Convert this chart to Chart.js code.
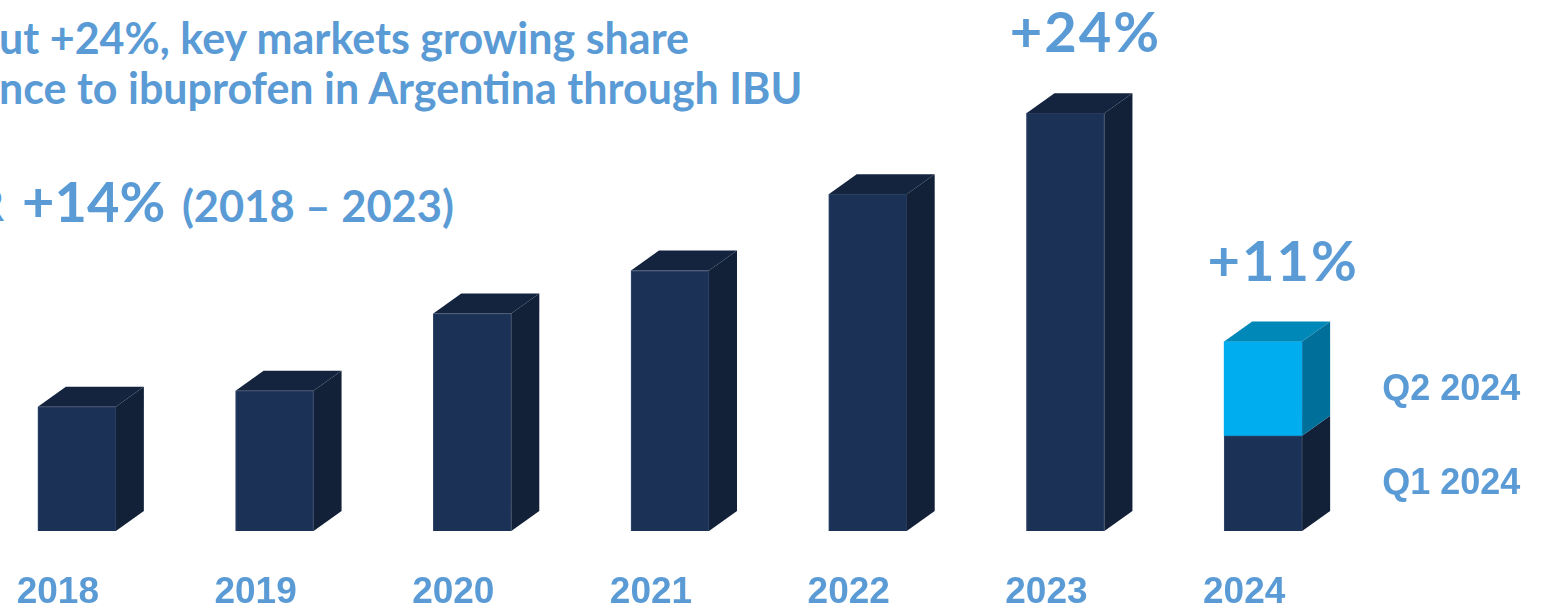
<!DOCTYPE html>
<html>
<head>
<meta charset="utf-8">
<script src="https://cdn.jsdelivr.net/npm/chart.js@4.4.1/dist/chart.umd.min.js"></script>
<style>
  html, body { margin: 0; padding: 0; background: #fff; }
  body { width: 1550px; height: 607px; position: relative; overflow: hidden; font-family: 'Lato', sans-serif; color: #5B9BD5; }
  #wrap { position: absolute; left: -22px; top: 0; width: 1600px; height: 607px; }
  .head { position: absolute; font-weight: 700; white-space: nowrap; line-height: 1; }
  #line1 { left: -1px; top: 16px; font-size: 43px; }
  #line2 { left: -1px; top: 66px; font-size: 43px; }
  #cagrLead { right: calc(100% - 4px); top: 183px; font-size: 43px; }
  #cagr { left: 22px; top: 173px; font-size: 43.5px; }
  #cagr b { font-size: 56px; font-weight: 700; margin-right: 6px; }
</style>
</head>
<body>
<div class="head" id="line1">ut +24%, key markets growing share</div>
<div class="head" id="line2">nce to ibuprofen in Argentina through IBU</div>
<div class="head" id="cagrLead">CAGR</div>
<div class="head" id="cagr"><b>+14%</b> (2018 – 2023)</div>
<div id="wrap"><canvas id="salesChart" width="1600" height="607"></canvas></div>

<script>
// --- Data ---
const years = ['2018', '2019', '2020', '2021', '2022', '2023', '2024'];
const annualValues = [124, 140, 217, 260, 336, 417, 95]; // 2024 slot holds Q1
const q2Values = [null, null, null, null, null, null, 94];
const growthLabels = ['', '', '', '', '', '+24%', '+11%'];
const quarterLabels = ['Q1 2024', 'Q2 2024'];

// --- Styling for the fake 3D faces ---
const DEPTH_X = 28;
const DEPTH_Y = 20;
const faceColors = [
  { front: '#1B3156', side: '#122038', top: '#14243F' },
  { front: '#00AEEF', side: '#006F99', top: '#0088B8' }
];
const textBlue = '#5B9BD5';

// Draws side + top faces, growth labels above stacks and quarter labels
const boxPlugin = {
  id: 'box3d',
  afterDatasetsDraw(chart) {
    const ctx = chart.ctx;
    const metas = chart.data.datasets.map((d, i) => chart.getDatasetMeta(i));
    const n = years.length;

    for (let idx = 0; idx < n; idx++) {
      // find topmost segment for this category
      let topDs = -1;
      metas.forEach((meta, di) => {
        const v = chart.data.datasets[di].data[idx];
        if (v !== null && v !== undefined) topDs = di;
      });

      metas.forEach((meta, di) => {
        const v = chart.data.datasets[di].data[idx];
        if (v === null || v === undefined) return;
        const bar = meta.data[idx];
        const half = bar.width / 2;
        const left = bar.x - half, right = bar.x + half;
        const top = bar.y, bottom = bar.base;
        const c = faceColors[di];

        // right side
        ctx.save();
        ctx.fillStyle = c.side;
        ctx.beginPath();
        ctx.moveTo(right, top);
        ctx.lineTo(right + DEPTH_X, top - DEPTH_Y);
        ctx.lineTo(right + DEPTH_X, bottom - DEPTH_Y);
        ctx.lineTo(right, bottom);
        ctx.closePath();
        ctx.fill();

        // top face only on the last segment
        if (di === topDs) {
          ctx.fillStyle = c.top;
          ctx.beginPath();
          ctx.moveTo(left, top);
          ctx.lineTo(left + DEPTH_X, top - DEPTH_Y);
          ctx.lineTo(right + DEPTH_X, top - DEPTH_Y);
          ctx.lineTo(right, top);
          ctx.closePath();
          ctx.fill();

          if (growthLabels[idx]) {
            ctx.fillStyle = textBlue;
            ctx.font = '700 56px Lato';
            ctx.letterSpacing = '2px';
            ctx.textAlign = 'center';
            ctx.textBaseline = 'alphabetic';
            ctx.fillText(growthLabels[idx], bar.x + DEPTH_X / 2 + 6, top - DEPTH_Y - 41);
          }
        }
        ctx.restore();
      });
    }

    // quarter labels beside the 2024 stack
    const last = n - 1;
    ctx.save();
    ctx.fillStyle = textBlue;
    ctx.font = 'bold 36px "Liberation Sans", Arial';
    ctx.textAlign = 'left';
    ctx.textBaseline = 'middle';
    metas.forEach((meta, di) => {
      const bar = meta.data[last];
      const mid = (bar.y + bar.base) / 2;
      ctx.fillText(quarterLabels[di], bar.x + 119, mid + 1);
    });
    ctx.restore();
  }
};

const ctx = document.getElementById('salesChart');
new Chart(ctx, {
  type: 'bar',
  data: {
    labels: years,
    datasets: [
      {
        label: 'Sales',
        data: annualValues,
        backgroundColor: faceColors[0].front,
        borderColor: '#33496E',
        borderWidth: 1,
        barThickness: 78
      },
      {
        label: 'Q2',
        data: q2Values,
        backgroundColor: faceColors[1].front,
        borderWidth: 0,
        barThickness: 78
      }
    ]
  },
  options: {
    responsive: false,
    animation: false,
    layout: { padding: { top: 30, right: 216, left: 0, bottom: -47 } },
    plugins: { legend: { display: false }, tooltip: { enabled: false } },
    scales: {
      x: {
        stacked: true,
        grid: { display: false, drawTicks: false },
        border: { display: false },
        ticks: {
          color: textBlue,
          font: { family: '"Liberation Sans", Arial', size: 37, weight: 'bold', lineHeight: 1 },
          padding: 43,
          labelOffset: -19,
          maxRotation: 0
        }
      },
      y: {
        stacked: true,
        display: false,
        min: 0,
        max: 500
      }
    }
  },
  plugins: [boxPlugin]
});
</script>
</body>
</html>
